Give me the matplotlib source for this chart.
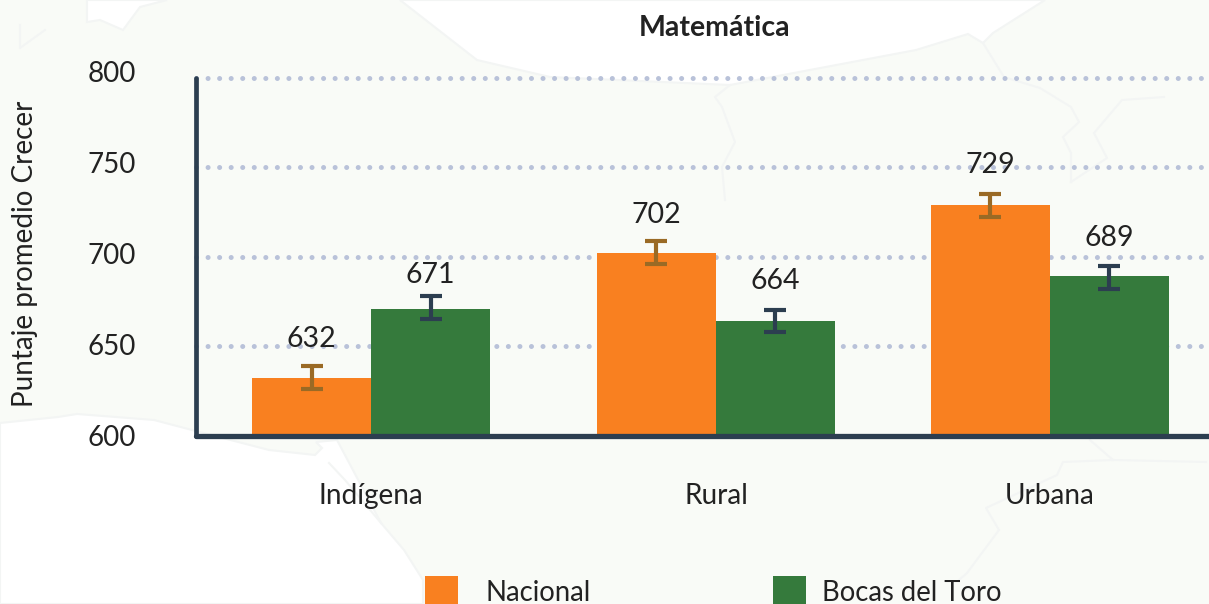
import matplotlib
matplotlib.use("Agg")
import matplotlib.pyplot as plt
from matplotlib.patches import Polygon
import numpy as np

categories = ["Indígena", "Rural", "Urbana"]
series_names = ["Nacional", "Bocas del Toro"]
nacional = [632, 702, 729]
bocas = [671, 664, 689]
nacional_low = [626, 696, 722]
nacional_high = [639, 709, 735]
bocas_low = [665, 658, 682]
bocas_high = [678, 670, 695]
y_ticks = [600, 650, 700, 750, 800]

W, H = 1209, 604
DARK = "#2c3e50"
ORANGE = "#f98020"
GREEN = "#357a3c"
ERR_O = "#9a6a25"
LAND = "#f9fbf7"
TXT = "#222222"
OUTLINE = "#f3f5f4"
plt.rcParams["font.family"] = ["Lato", "DejaVu Sans"]

fig = plt.figure(figsize=(W / 100, H / 100), dpi=100, facecolor=LAND)

# faint decorative map behind the chart, in picture pixels
bg = fig.add_axes([0, 0, 1, 1], zorder=0)
bg.set_xlim(0, W)
bg.set_ylim(H, 0)
bg.axis("off")
sea = [
    [(0, 423), (58, 417), (77, 414), (154, 420), (192, 430), (269, 450), (315, 455),
     (322, 448), (316, 442), (337, 440), (381, 523), (404, 550), (423, 580), (423, 604), (0, 604)],
    [(400, 0), (477, 60), (550, 77), (730, 85), (916, 50), (968, 34), (983, 43), (993, 33), (1045, 0)],
    [(87, 0), (87, 22), (100, 20), (123, 30), (140, 7), (167, 0)],
]
for p in sea:
    bg.add_patch(Polygon(p, closed=True, facecolor="white", edgecolor=OUTLINE, lw=1.5))
borders = [
    [(1090, 440), (1113, 460), (1063, 462), (1057, 475), (986, 508), (999, 530), (967, 573), (959, 580)],
    [(1113, 460), (1206, 462)],
    [(730, 85), (715, 97), (722, 107), (735, 142), (722, 167), (725, 200)],
    [(983, 43), (1004, 77), (1040, 88), (1071, 107), (1079, 122), (1063, 137), (1071, 153), (1071, 182)],
    [(1164, 97), (1122, 100), (1094, 133), (1107, 158), (1071, 182)],
    [(329, 463), (345, 480), (381, 523)],
    [(20, 25), (20, 48), (45, 30)],
]
for b in borders:
    bx, by = zip(*b)
    bg.plot(bx, by, color=OUTLINE, lw=1.5)

# axes placement in pixels: x from 196 to 1209, y from 435.5 (600) to 78 (800)
ax = fig.add_axes([196 / W, 1 - 435.5 / H, (W - 196) / W, 357.5 / H], zorder=2)
ax.set_facecolor("none")
ax.set_xlim(196, W)
ax.set_ylim(600, 800)

centers = np.array([371, 716, 1050])
bw = 119

for t in y_ticks[1:]:
    ax.plot([196, W], [t, t], color="#b9c2d9", lw=3.6, ls=(0, (0.01, 2.3)),
            dash_capstyle="round", zorder=1, clip_on=False)

ax.bar(centers - bw / 2, np.array(nacional) - 600, bw, bottom=600, color=ORANGE, zorder=2)
ax.bar(centers + bw / 2, np.array(bocas) - 600, bw, bottom=600, color=GREEN, zorder=2)


def errs(xs, lo, hi, col):
    ax.vlines(xs, lo, hi, color=col, lw=3, zorder=3)
    ax.hlines(lo, xs - 11, xs + 11, color=col, lw=3, zorder=3)
    ax.hlines(hi, xs - 11, xs + 11, color=col, lw=3, zorder=3)


errs(centers - bw / 2, nacional_low, nacional_high, ERR_O)
errs(centers + bw / 2, bocas_low, bocas_high, DARK)

nac_pad = [10, 9, 12]
boc_pad = [6, 12, 10.5]
for x, v, hi, pad in zip(centers - bw / 2, nacional, nacional_high, nac_pad):
    ax.annotate(str(v), (x, hi), xytext=(0, pad), textcoords="offset points",
                ha="center", va="bottom", fontsize=20.5, color=TXT, zorder=4)
for x, v, hi, pad in zip(centers + bw / 2, bocas, bocas_high, boc_pad):
    ax.annotate(str(v), (x, hi), xytext=(0, pad), textcoords="offset points",
                ha="center", va="bottom", fontsize=20.5, color=TXT, zorder=4)

for s in ("top", "right"):
    ax.spines[s].set_visible(False)
ax.spines["left"].set_linewidth(3.4)
ax.spines["bottom"].set_linewidth(3.8)
for s in ("left", "bottom"):
    ax.spines[s].set_color(DARK)
    ax.spines[s].set_capstyle("round")
ax.set_yticks([])
ax.set_xticks(centers)
ax.set_xticklabels(categories)
ax.tick_params(axis="x", length=0, labelsize=20.2, labelcolor=TXT, pad=34.5)

# the tick labels run on a slightly wider scale than the plot area
lab = fig.add_axes([136 / W, 1 - 436 / H, 10 / W, 365 / H], zorder=1)
lab.set_facecolor("none")
lab.set_ylim(600, 800)
lab.set_xticks([])
lab.set_yticks(y_ticks)
lab.tick_params(axis="y", length=0, labelsize=20, labelcolor=TXT, pad=0)
for s in lab.spines.values():
    s.set_visible(False)

fig.text(715 / W, 1 - 28 / H, "Matemática", ha="center", va="center",
         fontsize=20.5, fontweight="bold", color=TXT, zorder=5)
fig.text(25 / W, 1 - 253.5 / H, "Puntaje promedio Crecer", rotation=90, ha="center",
         va="center", fontsize=20, color=TXT, zorder=5)

# legend, with the swatches cropped by the lower edge like the reference
for px, col, name, tx in ((425, ORANGE, series_names[0], 486), (773, GREEN, series_names[1], 822)):
    fig.add_artist(plt.Rectangle((px / W, 0), 33 / W, 28 / H, transform=fig.transFigure,
                                 facecolor=col, edgecolor="none", zorder=5))
    fig.text(tx / W, 1 - 593 / H, name, ha="left", va="center", fontsize=19.8, color=TXT, zorder=5)

fig.savefig("out.png", dpi=100, facecolor=LAND)
